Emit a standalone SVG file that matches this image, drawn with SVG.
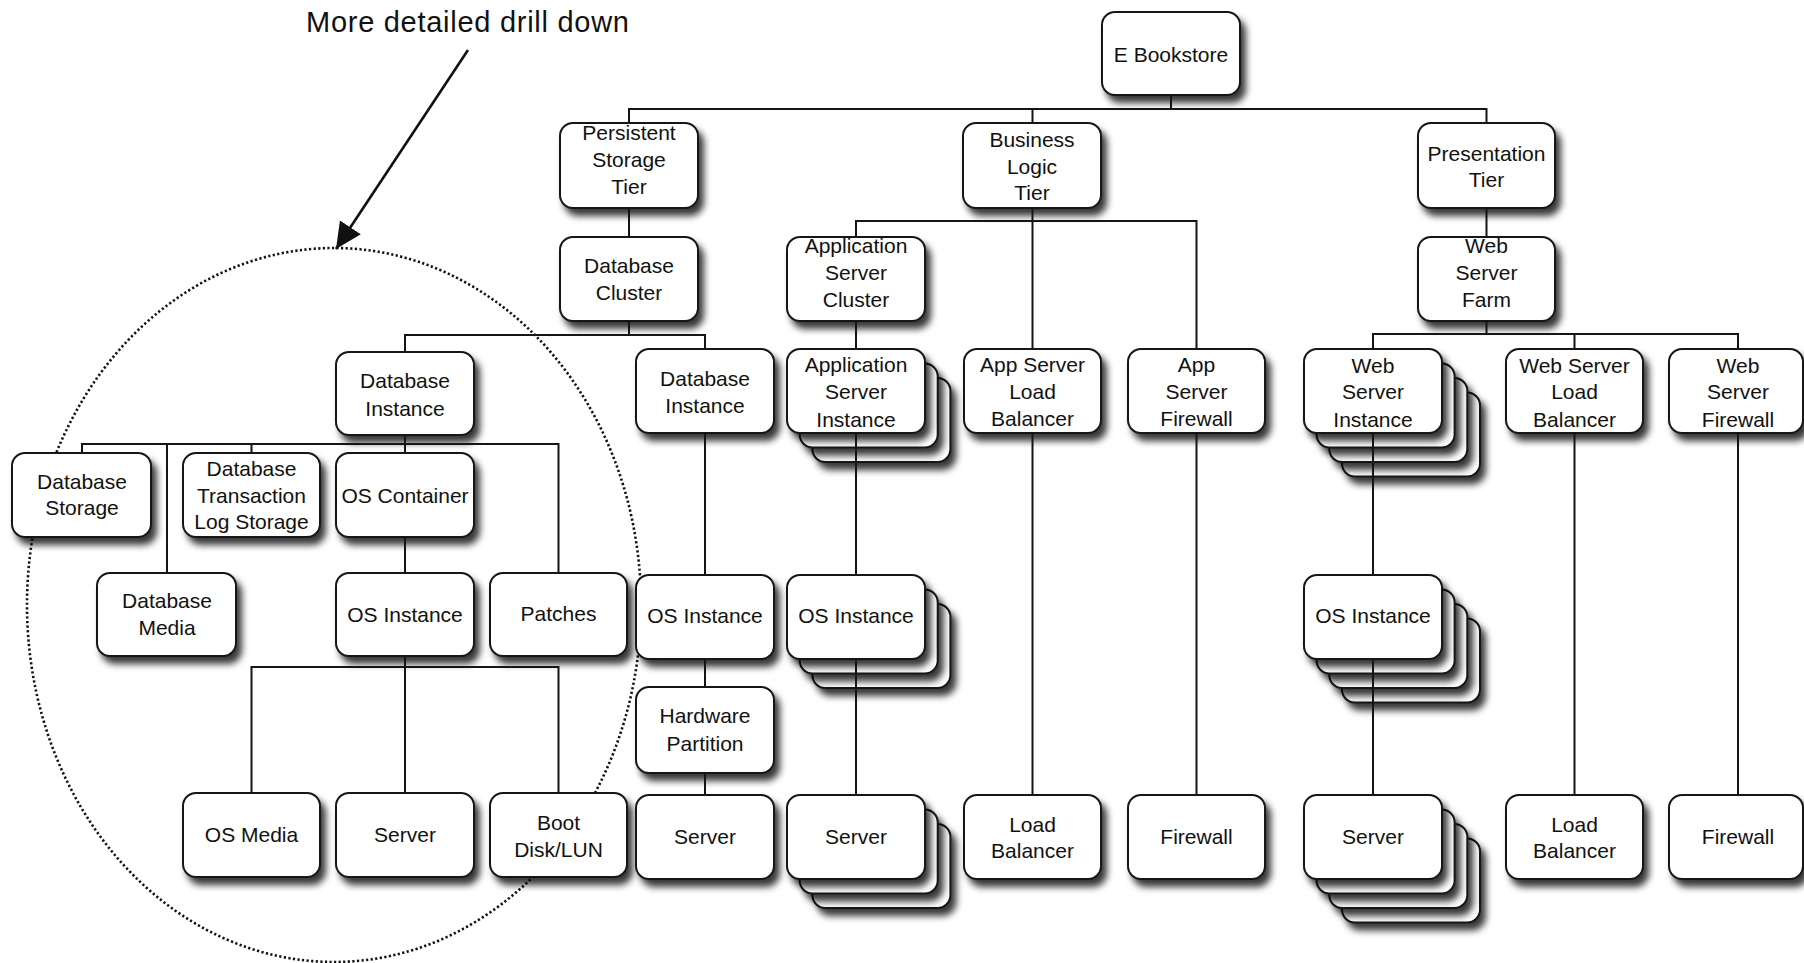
<svg xmlns="http://www.w3.org/2000/svg" width="1804" height="963" viewBox="0 0 1804 963">
<style>
.box{fill:#fff;stroke:#151515;stroke-width:2;filter:url(#sh)}
.t{font-family:"Liberation Sans",Arial,sans-serif;font-size:21px;fill:#111;text-anchor:middle}
.title{font-family:"Liberation Sans",Arial,sans-serif;font-size:29px;fill:#111}
.c{fill:none;stroke:#151515;stroke-width:2}
.halo{fill:none;stroke:#111;stroke-width:2.6;stroke-dasharray:2.2 2.4}
</style>
<defs>
<filter id="sh" x="-20%" y="-20%" width="150%" height="160%">
<feDropShadow dx="5" dy="7" stdDeviation="3.5" flood-color="#000" flood-opacity="0.78"/>
</filter>
<marker id="ah" markerUnits="userSpaceOnUse" markerWidth="27" markerHeight="26" refX="26" refY="12.5" orient="auto">
<path d="M0,0 L26,12.5 L0,25 z" fill="#111"/>
</marker>
<rect id="b" width="138" height="84" rx="13"/>
</defs>
<rect width="1804" height="963" fill="#fff"/>

<g id="drilldown">
<ellipse class="halo" cx="334" cy="605" rx="307" ry="357"/>
<text class="title" x="306" y="32" textLength="323" lengthAdjust="spacing">More detailed drill down</text>
<path d="M468,50 L336,249" stroke="#111" stroke-width="2.6" fill="none" marker-end="url(#ah)"/>
</g>

<g id="ebookstore"><rect class="box" x="1102" y="12" width="138" height="83" rx="13"/><text class="t" x="1171" y="62">E Bookstore</text></g>
<g id="persistent"><rect class="box" x="560" y="123" width="138" height="85" rx="13"/><text class="t" x="629" y="140">Persistent</text><text class="t" x="629" y="167">Storage</text><text class="t" x="629" y="194">Tier</text></g>
<g id="business"><rect class="box" x="963" y="123" width="138" height="85" rx="13"/><text class="t" x="1032" y="147">Business</text><text class="t" x="1032" y="174">Logic</text><text class="t" x="1032" y="200">Tier</text></g>
<g id="presentation"><rect class="box" x="1418" y="123" width="137" height="85" rx="13"/><text class="t" x="1486.5" y="161">Presentation</text><text class="t" x="1486.5" y="187">Tier</text></g>
<g id="dbcluster"><rect class="box" x="560" y="237" width="138" height="84" rx="13"/><text class="t" x="629" y="273">Database</text><text class="t" x="629" y="300">Cluster</text></g>
<g id="appcluster"><rect class="box" x="787" y="237" width="138" height="84" rx="13"/><text class="t" x="856" y="253">Application</text><text class="t" x="856" y="280">Server</text><text class="t" x="856" y="307">Cluster</text></g>
<g id="webfarm"><rect class="box" x="1418" y="237" width="137" height="84" rx="13"/><text class="t" x="1486.5" y="253">Web</text><text class="t" x="1486.5" y="280">Server</text><text class="t" x="1486.5" y="307">Farm</text></g>

<g id="dbinstance-left"><rect class="box" x="336" y="352" width="138" height="83" rx="13"/><text class="t" x="405" y="388">Database</text><text class="t" x="405" y="416">Instance</text></g>
<g id="dbinstance-right"><rect class="box" x="636" y="349" width="138" height="84" rx="13"/><text class="t" x="705" y="386">Database</text><text class="t" x="705" y="413">Instance</text></g>
<g id="appinstance">
<use href="#b" class="box" x="812.4" y="378"/><use href="#b" class="box" x="799.7" y="363.5"/><use href="#b" class="box" x="787" y="349"/>
<text class="t" x="856" y="372">Application</text><text class="t" x="856" y="399">Server</text><text class="t" x="856" y="427">Instance</text></g>
<g id="applb"><rect class="box" x="964" y="349" width="137" height="84" rx="13"/><text class="t" x="1032.5" y="372">App Server</text><text class="t" x="1032.5" y="399">Load</text><text class="t" x="1032.5" y="426">Balancer</text></g>
<g id="appfw"><rect class="box" x="1128" y="349" width="137" height="84" rx="13"/><text class="t" x="1196.5" y="372">App</text><text class="t" x="1196.5" y="399">Server</text><text class="t" x="1196.5" y="426">Firewall</text></g>
<g id="webinstance">
<use href="#b" class="box" x="1342" y="392.5"/><use href="#b" class="box" x="1329.3" y="378"/><use href="#b" class="box" x="1316.6" y="363.5"/><use href="#b" class="box" x="1304" y="349"/>
<text class="t" x="1373" y="373">Web</text><text class="t" x="1373" y="399">Server</text><text class="t" x="1373" y="427">Instance</text></g>
<g id="weblb"><rect class="box" x="1506" y="349" width="137" height="84" rx="13"/><text class="t" x="1574.5" y="373">Web Server</text><text class="t" x="1574.5" y="399">Load</text><text class="t" x="1574.5" y="427">Balancer</text></g>
<g id="webfw"><rect class="box" x="1669" y="349" width="134" height="84" rx="13"/><text class="t" x="1738" y="373">Web</text><text class="t" x="1738" y="399">Server</text><text class="t" x="1738" y="427">Firewall</text></g>

<g id="dbstorage"><rect class="box" x="12" y="453" width="139" height="84" rx="13"/><text class="t" x="82" y="489">Database</text><text class="t" x="82" y="515">Storage</text></g>
<g id="dbtxlog"><rect class="box" x="183" y="453" width="137" height="84" rx="13"/><text class="t" x="251.5" y="476">Database</text><text class="t" x="251.5" y="503">Transaction</text><text class="t" x="251.5" y="529">Log Storage</text></g>
<g id="oscontainer"><rect class="box" x="336" y="453" width="138" height="84" rx="13"/><text class="t" x="405" y="503">OS Container</text></g>
<g id="dbmedia"><rect class="box" x="97" y="573" width="139" height="83" rx="13"/><text class="t" x="167" y="608">Database</text><text class="t" x="167" y="635">Media</text></g>
<g id="osinstance-left"><rect class="box" x="336" y="573" width="138" height="83" rx="13"/><text class="t" x="405" y="622">OS Instance</text></g>
<g id="patches"><rect class="box" x="490" y="573" width="137" height="83" rx="13"/><text class="t" x="558.5" y="621">Patches</text></g>
<g id="osinstance-db"><rect class="box" x="636" y="575" width="138" height="84" rx="13"/><text class="t" x="705" y="623">OS Instance</text></g>
<g id="osinstance-app">
<use href="#b" class="box" x="812.4" y="604"/><use href="#b" class="box" x="799.7" y="589.5"/><use href="#b" class="box" x="787" y="575"/>
<text class="t" x="856" y="623">OS Instance</text></g>
<g id="osinstance-web">
<use href="#b" class="box" x="1342" y="618.5"/><use href="#b" class="box" x="1329.3" y="604"/><use href="#b" class="box" x="1316.6" y="589.5"/><use href="#b" class="box" x="1304" y="575"/>
<text class="t" x="1373" y="623">OS Instance</text></g>
<g id="hwpartition"><rect class="box" x="636" y="687" width="138" height="86" rx="13"/><text class="t" x="705" y="723">Hardware</text><text class="t" x="705" y="751">Partition</text></g>

<g id="osmedia"><rect class="box" x="183" y="793" width="137" height="84" rx="13"/><text class="t" x="251.5" y="842">OS Media</text></g>
<g id="server-left"><rect class="box" x="336" y="793" width="138" height="84" rx="13"/><text class="t" x="405" y="842">Server</text></g>
<g id="bootdisk"><rect class="box" x="490" y="793" width="137" height="84" rx="13"/><text class="t" x="558.5" y="830">Boot</text><text class="t" x="558.5" y="857">Disk/LUN</text></g>
<g id="server-db"><rect class="box" x="636" y="795" width="138" height="84" rx="13"/><text class="t" x="705" y="844">Server</text></g>
<g id="server-app">
<use href="#b" class="box" x="812.4" y="824"/><use href="#b" class="box" x="799.7" y="809.5"/><use href="#b" class="box" x="787" y="795"/>
<text class="t" x="856" y="844">Server</text></g>
<g id="loadbalancer-app"><rect class="box" x="964" y="795" width="137" height="84" rx="13"/><text class="t" x="1032.5" y="832">Load</text><text class="t" x="1032.5" y="858">Balancer</text></g>
<g id="firewall-app"><rect class="box" x="1128" y="795" width="137" height="84" rx="13"/><text class="t" x="1196.5" y="844">Firewall</text></g>
<g id="server-web">
<use href="#b" class="box" x="1342" y="838.5"/><use href="#b" class="box" x="1329.3" y="824"/><use href="#b" class="box" x="1316.6" y="809.5"/><use href="#b" class="box" x="1304" y="795"/>
<text class="t" x="1373" y="844">Server</text></g>
<g id="loadbalancer-web"><rect class="box" x="1506" y="795" width="137" height="84" rx="13"/><text class="t" x="1574.5" y="832">Load</text><text class="t" x="1574.5" y="858">Balancer</text></g>
<g id="firewall-web"><rect class="box" x="1669" y="795" width="134" height="84" rx="13"/><text class="t" x="1738" y="844">Firewall</text></g>

<g id="connectors">
<path class="c" d="M1171,95 V109 M629,123 V109 H1486.5 V123 M1032.5,109 V123"/>
<path class="c" d="M629,208 V237 M1486.5,208 V237"/>
<path class="c" d="M629,321 V335 M405,352 V335 H705 V349"/>
<path class="c" d="M1032.5,208 V349 M856,237 V221 H1196.5 V349"/>
<path class="c" d="M856,321 V349"/>
<path class="c" d="M1486.5,321 V334 M1373,349 V334 H1738 V349 M1574.5,334 V349"/>
<path class="c" d="M705,433 V575 M705,659 V687 M705,773 V795"/>
<path class="c" d="M856,433 V575 M856,659 V795"/>
<path class="c" d="M1032.5,433 V795 M1196.5,433 V795"/>
<path class="c" d="M1373,433 V575 M1373,659 V795 M1574.5,433 V795 M1738,433 V795"/>
<path class="c" d="M405,435 V444 M82,453 V444 H558.5 V573 M167,444 V573 M251.5,444 V453 M405,444 V453"/>
<path class="c" d="M405,537 V573 M405,656 V667 M251.5,793 V667 H558.5 V793 M405,667 V793"/>
</g>
</svg>
